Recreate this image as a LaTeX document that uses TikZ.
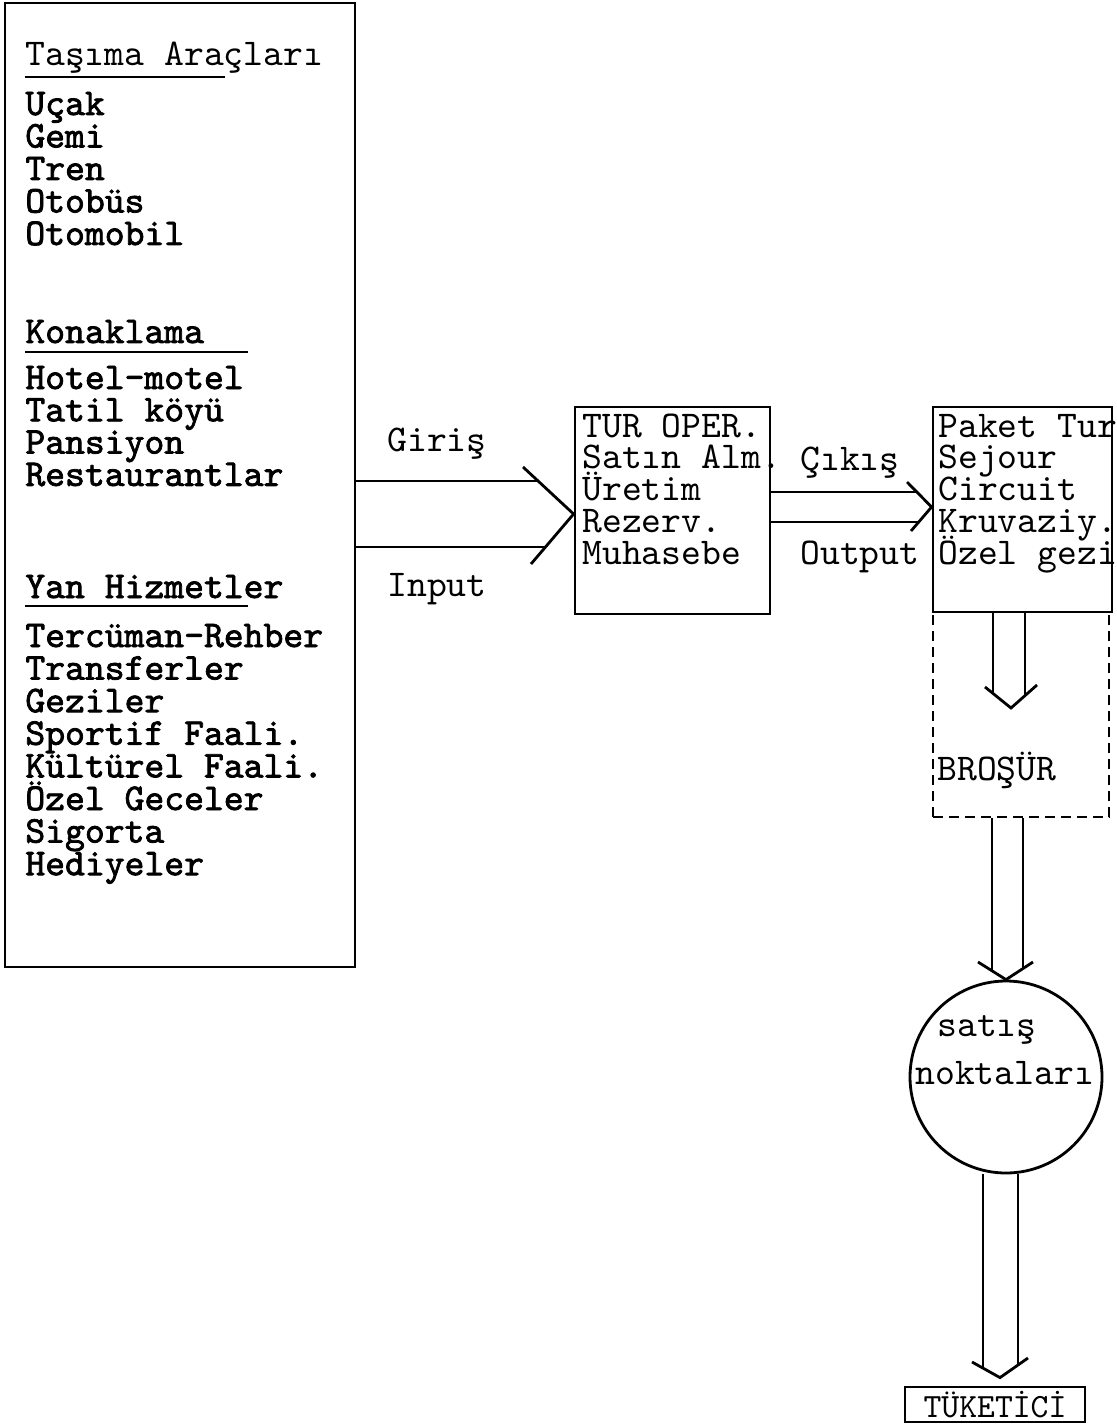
\documentclass[tikz,border=0pt]{standalone}
\usepackage{fontspec}
\newfontfamily\daktilo{lmmono10-regular.otf}
\newfontfamily\daktilokalin{lmmono10-regular.otf}[FakeBold=2]
\usetikzlibrary{calc}

\begin{document}
\begin{tikzpicture}[x=0.5pt, y=-0.5pt,
    ln/.style={line width=1.4pt},
    kutu/.style={draw, line width=1.4pt, rectangle, inner sep=0pt},
    yazi/.style={anchor=base west, inner sep=0pt, font=\daktilo\fontsize{18.9}{18.9}\selectfont},
    kalin/.style={yazi, font=\daktilokalin\fontsize{18.9}{18.9}\selectfont}
  ]
  \useasboundingbox (0,0) rectangle (1117,1428);

  % kaynaklar
  \node[kutu, minimum width=175pt, minimum height=482pt] (kaynak) at (180,485) {};
  \node[yazi] (tasima) at (25,66) {Taşıma Araçları};
  \draw[ln] ($(tasima.base west)+(0,11)$) -- +(200,0);
  \foreach \s [count=\i from 0] in {Uçak,Gemi,Tren,Otobüs,Otomobil}
    \node[kalin] at (25,{115+32.5*\i}) {\s};
  \node[kalin] (konak) at (25,343) {Konaklama};
  \draw[ln] ($(konak.base west)+(0,9)$) -- +(223,0);
  \foreach \s [count=\i from 0] in {Hotel-motel,Tatil köyü,Pansiyon,Restaurantlar}
    \node[kalin] at (25,{389+32.3*\i}) {\s};
  \node[kalin] (yan) at (25,598) {Yan Hizmetler};
  \draw[ln] ($(yan.base west)+(0,8)$) -- +(223,0);
  \foreach \s [count=\i from 0] in {Tercüman-Rehber,Transferler,Geziler,Sportif Faali.,Kültürel Faali.,Özel Geceler,Sigorta,Hediyeler}
    \node[kalin] at (25,{647+32.6*\i}) {\s};

  % tur operatoru
  \node[kutu, minimum width=97.5pt, minimum height=103.5pt] (turop) at (672.5,510.5) {};
  \foreach \s [count=\i from 0] in {TUR OPER.,Satın Alm.,Üretim,Rezerv.,Muhasebe}
    \node[yazi] at (582,{437+31.75*\i}) {\s};

  % urunler
  \node[kutu, minimum width=89.5pt, minimum height=102.5pt] (urun) at (1022.5,509.5) {};
  \foreach \s [count=\i from 0] in {Paket Tur,Sejour,Circuit,Kruvaziy.,Özel gezi}
    \node[yazi] at (938,{437+31.75*\i}) {\s};
  \node[kutu, dash pattern=on 5pt off 3pt, minimum width=88pt, minimum height=102.5pt] (brosur) at (1021,714.5) {};
  \node[yazi] at (937,780) {BROŞÜR};

  \node[kutu, circle, minimum size=96pt] (satis) at (1006,1077) {};
  \node[yazi] at (937,1036) {satış};
  \node[yazi] at (915,1084) {noktaları};

  \node[kutu, minimum width=90pt, minimum height=17.5pt,
    font=\daktilo\fontsize{17}{17}\selectfont] (tuketici) at (995,1404.5) {TÜKETİCİ};

  % giris
  \draw[ln] (kaynak.east |- 0,481) -- (538,481);
  \draw[ln] (kaynak.east |- 0,547) -- (546,547);
  \draw[ln] (523,467) -- (turop.west |- 0,514) -- (531,564);
  \node[yazi] at (387,451) {Giriş};
  \node[yazi] at (387,596) {Input};

  % cikis
  \draw[ln] (turop.east |- 0,492) -- (917,492);
  \draw[ln] (turop.east |- 0,522) -- (919,522);
  \draw[ln] (907,482) -- (urun.west |- 0,507) -- (911,531);
  \node[yazi] at (800,470) {Çıkış};
  \node[yazi] at (800,564) {Output};

  % asagi oklar
  \draw[ln] (993,0 |- urun.south) -- (993,693);
  \draw[ln] (1025,0 |- urun.south) -- (1025,696);
  \draw[ln] (985,687) -- (1011,708) -- (1037,685);

  \draw[ln] (992,0 |- brosur.south) -- (992,971);
  \draw[ln] (1023,0 |- brosur.south) -- (1023,969);
  \draw[ln] (978,962) -- (satis.north) -- (1033,962);

  \draw[ln] (983,0 |- satis.south) -- (983,1369);
  \draw[ln] (1018,0 |- satis.south) -- (1018,1366);
  \draw[ln] (972,1362) -- ($(tuketici.north)+(5,-8)$) -- (1028,1358);
\end{tikzpicture}
\end{document}
